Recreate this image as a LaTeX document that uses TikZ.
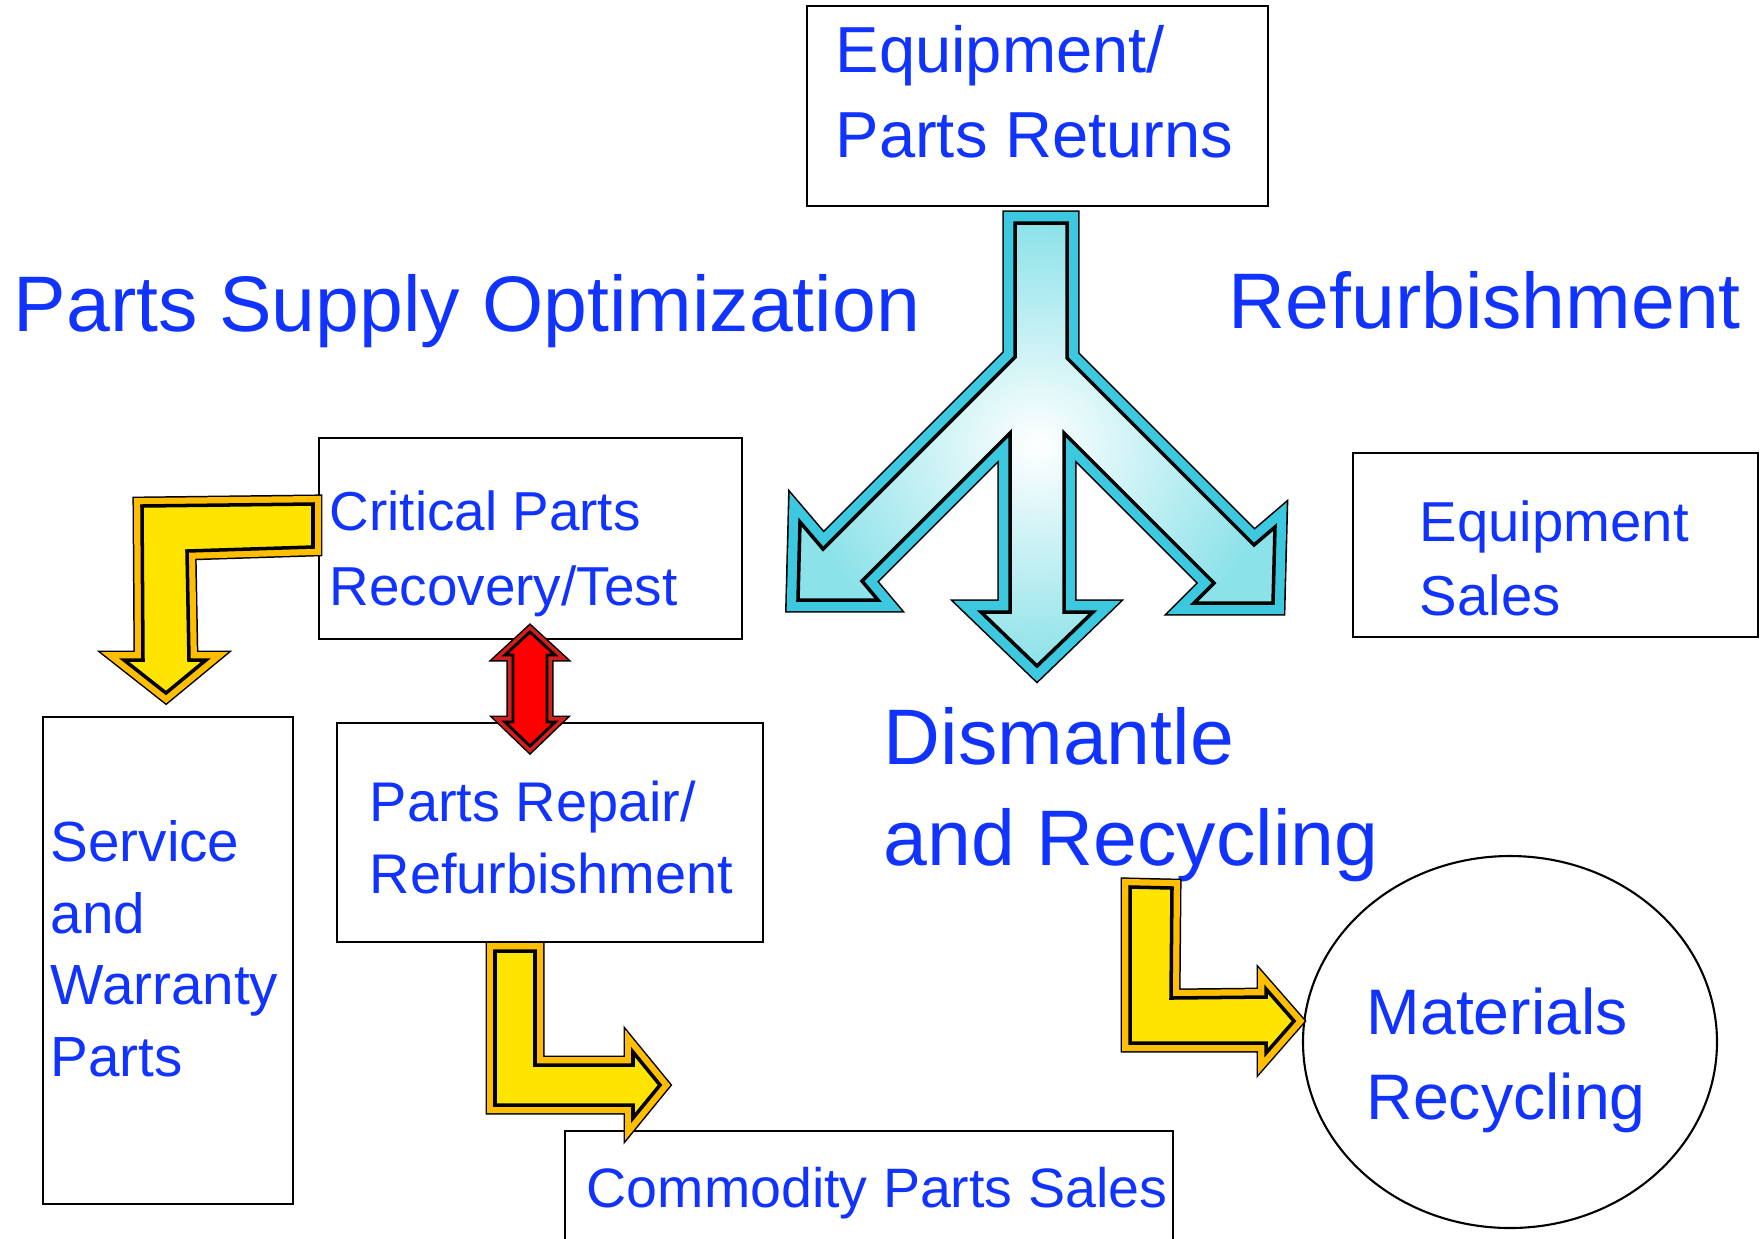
\documentclass[tikz,border=0pt]{standalone}
\usepackage{fontspec}
\setmainfont{Liberation Sans}
\usetikzlibrary{calc,positioning}
\definecolor{textblue}{RGB}{17,51,255}
\definecolor{cyanface}{RGB}{140,226,233}
\definecolor{cyanbevel}{RGB}{60,200,222}
\definecolor{yellowface}{RGB}{255,228,0}
\definecolor{yellowbevel}{RGB}{255,190,0}
\definecolor{redface}{RGB}{255,0,0}
\definecolor{redbevel}{RGB}{210,30,30}
\begin{document}
\begin{tikzpicture}[x=0.01cm,y=-0.01cm,
  lbl/.style={text=textblue,anchor=base west,inner sep=0pt,align=left},
  bigtitle/.style={lbl,font=\fontsize{22.4}{28.45}\selectfont},
  box/.style={draw,line width=0.6pt},
  cyanarrow/.style={draw=black,line width=1pt,inner color=white,outer color=cyanface,
    preaction={draw=black,line width=7.2pt},preaction={draw=cyanbevel,line width=6.3pt}},
  yellowarrow/.style={draw=black,line width=1pt,fill=yellowface,
    preaction={draw=black,line width=5.4pt},preaction={draw=yellowbevel,line width=4.55pt}},
  redarrow/.style={draw=black,line width=0.8pt,fill=redface,
    preaction={draw=black,line width=3.7pt},preaction={draw=redbevel,line width=2.85pt}}]
\useasboundingbox (0,0) rectangle (1760,1238);

\draw[box] (807,6) rectangle (1268,206);
\draw[box] (319,438) rectangle (742,639);
\draw[box] (337,723) rectangle (763,942);
\draw[box] (43,717) rectangle (293,1204);
\draw[box] (1353,453) rectangle (1758,637);
\draw[box] (565,1131) rectangle (1173,1260);
\draw[box] (1510,1042) ellipse [x radius=207, y radius=186];

\node[bigtitle] (pso) at (13,331) {Parts Supply Optimization};
\node[bigtitle] (refurb) at (1228,328) {Refurbishment};
\node[bigtitle] (dismantle) at (883,865) {Dismantle\\and Recycling};
\node[lbl,font=\fontsize{18.5}{23.9}\selectfont] (returns) at (835,157) {Equipment/\\Parts Returns};
\node[lbl,font=\fontsize{15.6}{21.05}\selectfont] (critical) at (329,605) {Critical Parts\\Recovery/Test};
\node[lbl,font=\fontsize{16.1}{20.3}\selectfont] (service) at (50,1076) {Service\\and\\Warranty\\Parts};
\node[lbl,font=\fontsize{15.9}{20.2}\selectfont] (repair) at (369,893) {Parts Repair/\\Refurbishment};
\node[lbl,font=\fontsize{16}{20.8}\selectfont] (eqsales) at (1419,615) {Equipment\\Sales};
\node[lbl,font=\fontsize{18.3}{23.9}\selectfont] (materials) at (1366,1119) {Materials\\Recycling};
\node[lbl,font=\fontsize{15.8}{19}\selectfont] (commodity) at (586,1207) {Commodity Parts Sales};

\shadedraw[cyanarrow] (1015,223) -- (1067,223) -- (1067,358) -- (1254,545) -- (1275,527) -- (1273,603)
  -- (1194,603) -- (1214,583) -- (1064,433) -- (1064,612) -- (1093,612) -- (1037,666) -- (981,612)
  -- (1010,612) -- (1010,433) -- (862,581) -- (878,600) -- (798,600) -- (800,522) -- (823,549)
  -- (1015,357) -- cycle;
\draw[yellowarrow] (142,506) -- (313,504) -- (313,547) -- (187,551) -- (189,660) -- (206,660)
  -- (166,693) -- (124,660) -- (143,660) -- cycle;
\draw[yellowarrow] (495,951) -- (535,951) -- (535,1065) -- (633,1065) -- (633,1052) -- (660,1085)
  -- (633,1118) -- (633,1105) -- (495,1105) -- cycle;
\draw[yellowarrow] (1130,887) -- (1172,888) -- (1171,998) -- (1266,997) -- (1266,989) -- (1294,1021)
  -- (1266,1053) -- (1266,1043) -- (1130,1043) -- cycle;
\draw[redarrow] (530,632) -- (555,655) -- (547,655) -- (547,722) -- (555,722) -- (530,746)
  -- (505,722) -- (513,722) -- (513,655) -- (505,655) -- cycle;
\end{tikzpicture}
\end{document}
